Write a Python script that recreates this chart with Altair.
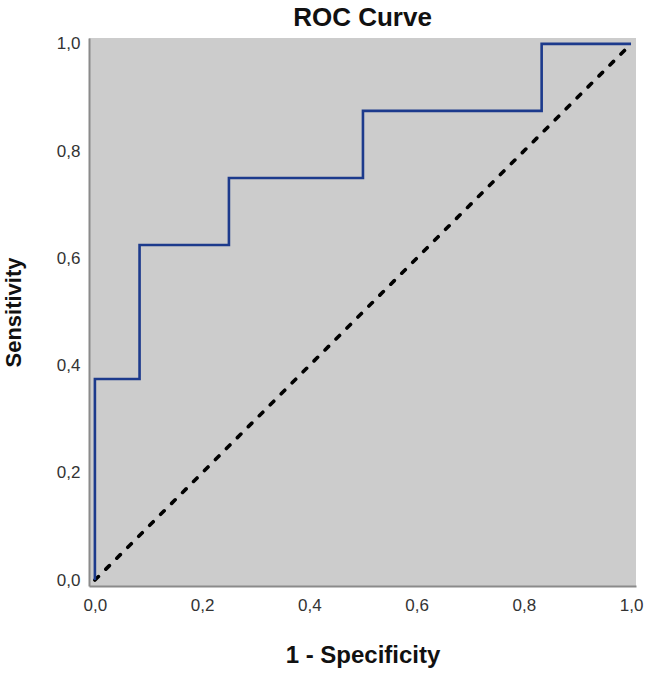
import altair as alt
import pandas as pd

# ROC step curve (1 - Specificity, Sensitivity)
fpr = [0.0, 0.0, 0.0833, 0.0833, 0.25, 0.25, 0.5, 0.5, 0.8333, 0.8333, 1.0]
tpr = [0.0, 0.375, 0.375, 0.625, 0.625, 0.75, 0.75, 0.875, 0.875, 1.0, 1.0]
ref_x = [0.0, 1.0]
ref_y = [0.0, 1.0]
ticks = [0.0, 0.2, 0.4, 0.6, 0.8, 1.0]

roc = pd.DataFrame({"x": fpr, "y": tpr, "order": list(range(len(fpr)))})
ref = pd.DataFrame({"x": ref_x, "y": ref_y})

label_expr = "replace(format(datum.value, '.1f'), '.', ',')"

xs = alt.Scale(domain=[-0.011, 1.0093], nice=False, zero=False)
ys = alt.Scale(domain=[-0.011, 1.011], nice=False, zero=False)

x_axis = alt.Axis(values=ticks, labelExpr=label_expr, title="1 - Specificity", grid=False,
                  ticks=False, labelPadding=11, titlePadding=30, titleFontSize=24)
y_axis = alt.Axis(values=ticks, labelExpr=label_expr, title="Sensitivity", grid=False,
                  ticks=False, labelPadding=9, titlePadding=31, titleFontSize=22)

diag = alt.Chart(ref).mark_line(color="black", strokeWidth=3.6, strokeDash=[5, 10.5],
                                strokeCap="round").encode(
    x=alt.X("x:Q", scale=xs, axis=x_axis),
    y=alt.Y("y:Q", scale=ys, axis=y_axis),
)

curve = alt.Chart(roc).mark_line(color="#1c3a8c", strokeWidth=2.6).encode(
    x=alt.X("x:Q", scale=xs),
    y=alt.Y("y:Q", scale=ys),
    order="order:Q",
)

chart = (diag + curve).properties(
    width=547, height=548,
    title=alt.Title("ROC Curve", fontSize=26, font="Liberation Sans", fontWeight="bold",
                    color="#111", offset=4),
    autosize=alt.AutoSizeParams(type="none"),
    padding={"left": 89, "top": 38, "right": 10, "bottom": 91},
).configure(background="white").configure_view(fill="#cccccc", stroke=None).configure_axis(
    labelFont="Liberation Sans", labelFontSize=17, labelColor="#333",
    titleFont="Liberation Sans", titleFontWeight="bold", titleColor="#111",
    domainColor="#8a8a8a", domainWidth=2,
)

chart.save("out.html", embed_options={"renderer": "svg", "actions": False})
